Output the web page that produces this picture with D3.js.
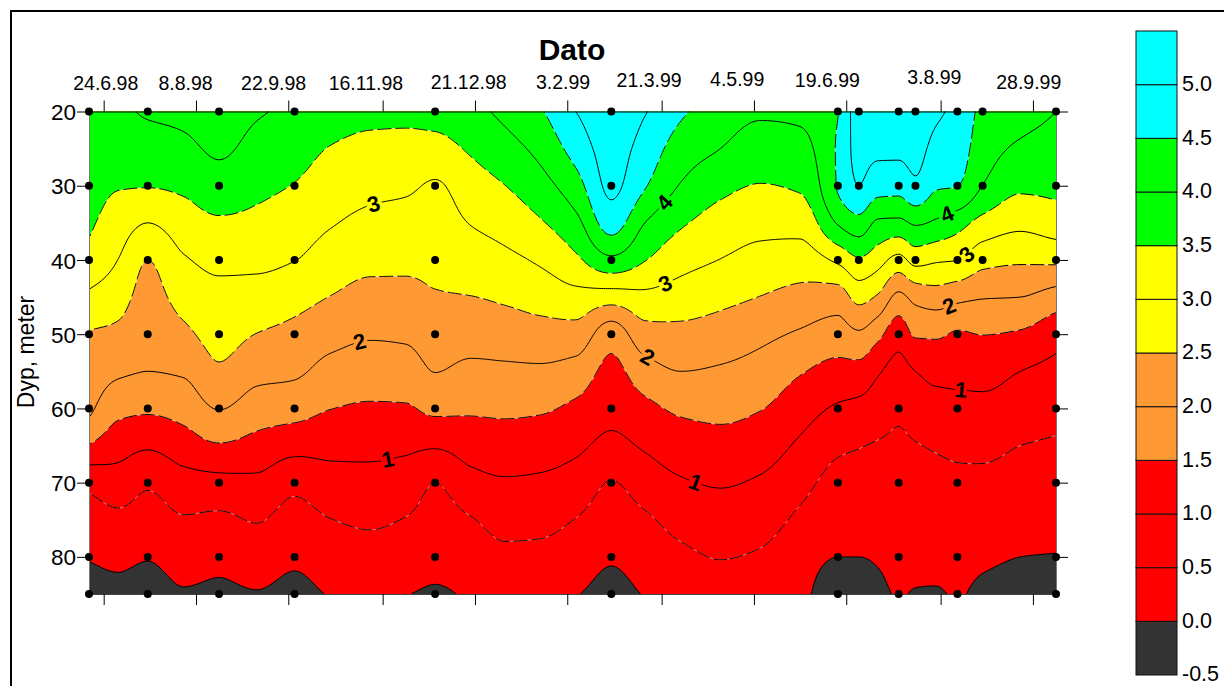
<!DOCTYPE html>
<html><head><meta charset="utf-8">
<script src="https://cdn.jsdelivr.net/npm/d3@7"></script>
<style>
body{margin:0;background:#fff}
svg{display:block}
text{font-family:"Liberation Sans",Arial,Helvetica,sans-serif}
</style>
</head><body>
<svg id="chart" width="1224" height="686"></svg>
<script>
// ---------------- data ----------------
const depths = [20,25,30,35,40,45,50,55,60,65,70,75,80,85];
const columnDates = ["1998-06-24","1998-07-08","1998-07-22","1998-08-08","1998-08-25","1998-09-12","1998-09-30","1998-10-17","1998-11-05","1998-11-22","1998-12-06","1998-12-23","1999-01-08","1999-01-25","1999-02-11","1999-02-28","1999-03-16","1999-04-02","1999-04-21","1999-05-10","1999-05-29","1999-06-16","1999-06-26","1999-07-05","1999-07-15","1999-07-23","1999-08-02","1999-08-12","1999-08-24","1999-09-11","1999-09-28"];
// temperature profile for each column date, one value per depth
const profiles = [
[3.90,3.79,3.68,3.57,3.36,2.90,2.47,2.29,2.10,1.48,0.62,0.28,0.03,-0.20],
[3.92,3.73,3.53,3.27,2.99,2.69,2.39,2.08,1.64,1.20,0.77,0.39,0.11,-0.15],
[4.06,3.79,3.52,3.00,2.50,2.33,2.17,2.00,1.58,1.06,0.57,0.28,0.03,-0.25],
[4.12,3.89,3.59,3.27,2.95,2.68,2.39,2.06,1.69,1.26,0.81,0.46,0.21,-0.05],
[4.22,4.07,3.79,3.43,3.11,2.87,2.67,2.43,2.02,1.46,0.85,0.41,0.13,-0.10],
[4.05,3.85,3.62,3.38,3.11,2.81,2.49,2.15,1.76,1.33,0.89,0.53,0.24,-0.03],
[3.90,3.70,3.48,3.25,3.01,2.67,2.36,2.08,1.69,1.17,0.63,0.32,0.09,-0.15],
[3.72,3.48,3.26,3.04,2.77,2.49,2.17,1.84,1.51,1.14,0.81,0.49,0.25,0.02],
[3.62,3.38,3.13,2.88,2.62,2.35,2.05,1.75,1.44,1.13,0.84,0.57,0.32,0.07],
[3.60,3.37,3.08,2.83,2.61,2.35,2.08,1.77,1.45,1.09,0.77,0.48,0.24,0.01],
[3.65,3.36,2.95,2.79,2.63,2.46,2.23,2.01,1.61,1.05,0.50,0.32,0.14,-0.05],
[3.85,3.56,3.28,3.02,2.75,2.49,2.20,1.89,1.57,1.21,0.84,0.47,0.23,0.05],
[4.12,3.81,3.49,3.19,2.88,2.57,2.24,1.91,1.59,1.27,0.95,0.66,0.39,0.14],
[4.45,4.14,3.81,3.45,3.07,2.69,2.31,1.92,1.56,1.23,0.92,0.64,0.37,0.12],
[5.00,4.69,4.30,3.86,3.40,2.83,2.30,1.81,1.40,1.10,0.80,0.49,0.25,0.02],
[5.35,5.20,5.10,4.72,3.89,2.74,1.72,1.36,1.15,0.88,0.48,0.27,0.05,-0.15],
[5.03,4.80,4.54,4.00,3.52,2.87,2.30,1.80,1.37,1.06,0.73,0.43,0.22,0.02],
[4.58,4.28,3.97,3.57,3.18,2.77,2.36,2.00,1.58,1.26,0.95,0.66,0.39,0.14],
[4.25,4.00,3.63,3.30,2.99,2.63,2.28,1.94,1.63,1.33,1.04,0.78,0.52,0.27],
[4.07,3.78,3.48,3.16,2.83,2.49,2.12,1.81,1.52,1.23,0.94,0.69,0.44,0.17],
[4.10,3.85,3.57,3.18,2.76,2.34,1.94,1.54,1.22,0.92,0.65,0.41,0.20,0.10],
[4.48,4.56,4.54,4.04,3.10,2.25,1.78,1.34,0.94,0.58,0.36,0.18,0.00,-0.30],
[5.25,5.15,5.00,4.32,3.44,2.66,1.93,1.33,0.87,0.52,0.34,0.17,0.00,-0.30],
[5.30,5.10,4.71,3.92,3.21,2.44,1.64,1.06,0.74,0.47,0.33,0.19,0.04,-0.10],
[5.30,5.10,4.68,3.88,2.84,1.88,1.20,0.83,0.58,0.43,0.32,0.21,0.11,0.02],
[5.35,5.17,4.91,4.06,3.17,2.15,1.56,1.00,0.72,0.48,0.35,0.23,0.10,-0.02],
[5.10,4.83,4.55,3.92,3.06,2.26,1.57,1.14,0.82,0.54,0.38,0.25,0.11,-0.03],
[4.85,4.72,4.51,3.70,3.01,2.13,1.45,1.14,0.86,0.59,0.41,0.27,0.13,0.03],
[4.40,4.25,3.99,3.34,2.67,2.03,1.51,1.17,0.87,0.61,0.40,0.26,0.08,-0.10],
[4.20,3.92,3.59,3.12,2.57,2.00,1.44,1.00,0.75,0.50,0.33,0.17,0.00,-0.20],
[4.00,3.81,3.61,3.26,2.60,1.78,1.18,0.87,0.65,0.45,0.30,0.14,-0.02,-0.30]
];
const stationDates = ["1998-06-24","1998-07-22","1998-08-25","1998-09-30","1998-12-06","1999-02-28","1999-06-16","1999-06-26","1999-07-15","1999-07-23","1999-08-12","1999-08-24","1999-09-28"];
const stationFullProfile = [true,true,true,true,true,true,true,false,true,false,true,false,true];
const fullSampleDepths = [20,30,40,50,60,70,80,85];
const shallowSampleDepths = [20,30,40];
const tickDates = ["1998-07-01","1998-08-14","1998-09-27","1998-11-11","1998-12-25","1999-02-07","1999-03-24","1999-05-07","1999-06-20","1999-08-04","1999-09-17"];
const dateLabels = ["24.6.98","8.8.98","22.9.98","16.11.98","21.12.98","3.2.99","21.3.99","4.5.99","19.6.99","3.8.99","28.9.99"];
const dateLabelAnchors = ["1998-07-02","1998-08-09","1998-09-20","1998-11-03","1998-12-22","1999-02-05","1999-03-18","1999-04-29","1999-06-11","1999-08-01","1999-09-15"];
const depthTicks = [20,30,40,50,60,70,80];
const bandBreaks = [0,1.5,2.5,3.5,4.5];
const bandColors = ["#333333","#ff0000","#ff9933","#ffff00","#00ff00","#00ffff"];
const lineLevels = [0,0.5,1,1.5,2,2.5,3,3.5,4,4.5,5];
const legendSteps = [-0.5,0,0.5,1,1.5,2,2.5,3,3.5,4,4.5,5,5.5];
const contourLabels = [
  {level:3, date:"1998-11-07", depth:32.3},
  {level:2, date:"1998-10-31", depth:51.2},
  {level:1, date:"1998-11-13", depth:66.7},
  {level:4, date:"1999-03-25", depth:32.1},
  {level:3, date:"1999-03-26", depth:43.1},
  {level:2, date:"1999-03-17", depth:53.2},
  {level:1, date:"1999-04-08", depth:70.5},
  {level:4, date:"1999-08-08", depth:34.1},
  {level:3, date:"1999-08-15", depth:39.0},
  {level:2, date:"1999-08-08", depth:46.0},
  {level:1, date:"1999-08-14", depth:57.0}
];

// ---------------- layout ----------------
const parse = d3.utcParse("%Y-%m-%d");
const svg = d3.select("#chart");
const x = d3.scaleUtc().domain([parse(columnDates[0]), parse(columnDates[columnDates.length-1])]).range([89, 1056]);
const y = d3.scaleLinear().domain([20, 85]).range([111.5, 594]);
const color = d3.scaleThreshold().domain(bandBreaks).range(bandColors);
const labelBaseline = [90, 90, 90, 90, 88.7, 89.3, 86.7, 86, 86.7, 84, 89.3];

// frame
svg.append("rect").attr("x",11).attr("y",11).attr("width",1400).attr("height",900)
  .attr("fill","none").attr("stroke","#000").attr("stroke-width",2);

// ---------------- field ----------------
function pchip(xs, ys){
  const n = xs.length, h = [], d = [], m = new Array(n);
  for (let i=0;i<n-1;i++){ h[i]=xs[i+1]-xs[i]; d[i]=(ys[i+1]-ys[i])/h[i]; }
  m[0]=d[0]; m[n-1]=d[n-2];
  for (let i=1;i<n-1;i++){
    if (d[i-1]*d[i] <= 0) m[i]=0;
    else { const w1=2*h[i]+h[i-1], w2=h[i]+2*h[i-1]; m[i]=(w1+w2)/(w1/d[i-1]+w2/d[i]); }
  }
  return function(v){
    v = Math.max(xs[0], Math.min(xs[n-1], v));
    let i = d3.bisectRight(xs, v) - 1; i = Math.max(0, Math.min(n-2, i));
    const t=(v-xs[i])/h[i], t2=t*t, t3=t2*t;
    return (2*t3-3*t2+1)*ys[i] + (t3-2*t2+t)*h[i]*m[i] + (-2*t3+3*t2)*ys[i+1] + (t3-t2)*h[i]*m[i+1];
  };
}
const X0 = x.range()[0], X1 = x.range()[1], Y0 = y.range()[0], Y1 = y.range()[1];
const nxIn = Math.round((X1-X0)/2), nyIn = Math.round((Y1-Y0)/2);
const cw = (X1-X0)/nxIn, ch = (Y1-Y0)/nyIn, pad = 3;
const nx = nxIn + 2*pad, ny = nyIn + 2*pad;
const GX0 = X0 - pad*cw, GY0 = Y0 - pad*ch;
const colX = columnDates.map(d => x(parse(d)));
const rowInterp = depths.map((dep,k) => pchip(colX, profiles.map(p => p[k])));
const values = new Float64Array(nx*ny);
for (let i=0;i<nx;i++){
  const px = GX0 + (i+0.5)*cw;
  const fy = pchip(depths, rowInterp.map(f => f(px)));
  for (let j=0;j<ny;j++){
    values[j*nx+i] = fy(y.invert(GY0 + (j+0.5)*ch));
  }
}
const cg = d3.contours().size([nx, ny]).smooth(true);
const toPx = d3.geoTransform({point(gx, gy){ this.stream.point(GX0 + gx*cw, GY0 + gy*ch); }});
const path = d3.geoPath(toPx);

svg.append("defs").append("clipPath").attr("id","plotclip")
  .append("rect").attr("x",X0).attr("y",Y0).attr("width",X1-X0).attr("height",Y1-Y0);
const plot = svg.append("g").attr("clip-path","url(#plotclip)");

plot.append("rect").attr("x",X0).attr("y",Y0).attr("width",X1-X0).attr("height",Y1-Y0).attr("fill",bandColors[0]);
bandBreaks.forEach((t,k) => {
  plot.append("path").attr("d", path(cg.contour(values, t))).attr("fill", bandColors[k+1]);
});

const linesByLevel = {};
lineLevels.forEach(lv => {
  const geo = cg.contour(values, lv);
  const rings = [];
  geo.coordinates.forEach(poly => poly.forEach(r => rings.push(r.map(([gx,gy]) => [GX0+gx*cw, GY0+gy*ch]))));
  linesByLevel[lv] = rings;
  const dashed = lv % 1 !== 0;
  const d = path(geo);
  if (dashed) {
    plot.append("path").attr("d", d).attr("fill","none")
      .attr("stroke","rgba(255,255,255,0.55)").attr("stroke-width",0.8);
  }
  plot.append("path").attr("d", d).attr("fill","none")
    .attr("stroke","#000").attr("stroke-width",1)
    .attr("stroke-dasharray", dashed ? "14,4" : null);
});

// contour labels snapped to the computed lines
contourLabels.forEach(lb => {
  const tx = x(parse(lb.date)), ty = y(lb.depth);
  let best = null, bd = 1e9;
  (linesByLevel[lb.level]||[]).forEach(r => {
    for (let i=0;i<r.length;i++){
      const p = r[i];
      if (p[0]<X0+5||p[0]>X1-5||p[1]<Y0+5||p[1]>Y1-5) continue;
      const dd = (p[0]-tx)**2 + (p[1]-ty)**2;
      if (dd < bd){ bd = dd; best = {r, i}; }
    }
  });
  let px = tx, py = ty, ang = 0;
  if (best && bd < 30*30){
    const r = best.r, n = r.length;
    const a = r[(best.i-4+n)%n], b = r[(best.i+4)%n];
    px = r[best.i][0]; py = r[best.i][1];
    ang = Math.atan2(b[1]-a[1], b[0]-a[0])*180/Math.PI;
    if (ang > 90) ang -= 180; if (ang < -90) ang += 180;
  }
  svg.append("text").attr("transform",`translate(${px},${py}) rotate(${ang})`)
    .attr("text-anchor","middle").attr("dominant-baseline","central")
    .attr("font-size",22).attr("font-weight","bold")
    .attr("fill","#000").attr("stroke", color(lb.level)).attr("stroke-width",7)
    .attr("stroke-linejoin","round").attr("paint-order","stroke")
    .text(d3.format("d")(lb.level));
});

// ---------------- axes ----------------
const tickD = tickDates.map(parse);
function styleAxis(g, col){ g.select(".domain").attr("stroke",col); g.selectAll(".tick line").attr("stroke","#000"); }
svg.append("g").attr("transform",`translate(0,${Y1})`)
  .call(d3.axisBottom(x).tickValues(tickD).tickSize(11).tickSizeOuter(0).tickFormat(""))
  .call(g => styleAxis(g, "#444"));
svg.append("g").attr("transform",`translate(${X1},0)`)
  .call(d3.axisRight(y).tickValues(depthTicks).tickSize(12).tickSizeOuter(0).tickFormat(""))
  .call(g => styleAxis(g, "#777"));
svg.append("g").attr("transform",`translate(${X0},0)`)
  .call(d3.axisLeft(y).tickValues(depthTicks).tickSize(12).tickSizeOuter(0).tickPadding(1))
  .call(g => styleAxis(g, "#777"))
  .call(g => g.selectAll("text").attr("font-size",22.5).attr("font-family","Liberation Sans, Arial, sans-serif").attr("fill","#000").attr("dy","0.36em"));
svg.append("g").attr("transform",`translate(0,${Y0})`)
  .call(d3.axisTop(x).tickValues(tickD).tickSize(11).tickSizeOuter(0).tickFormat(""))
  .call(g => styleAxis(g, "#000"));

svg.selectAll("text.datelab").data(dateLabels).enter().append("text").attr("class","datelab")
  .attr("x",(d,i) => x(parse(dateLabelAnchors[i]))).attr("y",(d,i) => labelBaseline[i])
  .attr("text-anchor","middle").attr("font-size",19.5).attr("fill","#000").text(d => d);

svg.append("text").attr("x",572).attr("y",60).attr("text-anchor","middle")
  .attr("font-size",30).attr("font-weight","bold").text("Dato");
svg.append("text").attr("transform","translate(34,352) rotate(-90)").attr("text-anchor","middle")
  .attr("font-size",23).text("Dyp, meter");

// station dots
const pts = [];
stationDates.forEach((d,i) => (stationFullProfile[i] ? fullSampleDepths : shallowSampleDepths).forEach(dep => pts.push([parse(d), dep])));
svg.selectAll("circle.stn").data(pts).enter().append("circle").attr("class","stn")
  .attr("cx", d => x(d[0])).attr("cy", d => y(d[1])).attr("r",4).attr("fill","#000");

// ---------------- legend ----------------
const ly = d3.scaleLinear().domain([-0.5, 5.5]).range([675, 31]);
const cells = d3.pairs(legendSteps);
svg.selectAll("rect.leg").data(cells).enter().append("rect").attr("class","leg")
  .attr("x",1136).attr("width",41)
  .attr("y", d => ly(d[1])).attr("height", d => ly(d[0]) - ly(d[1]))
  .attr("fill", d => color((d[0]+d[1])/2)).attr("stroke","#111").attr("stroke-width",1);
const legFmt = d3.formatLocale({decimal:".", thousands:",", grouping:[3], currency:["",""], minus:"-"}).format(".1f");
svg.selectAll("text.legl").data(legendSteps.slice(0,-1)).enter().append("text").attr("class","legl")
  .attr("x",1182).attr("y", d => ly(d)).attr("dy","0.3em")
  .attr("font-size",21.5).attr("fill","#000").text(d => legFmt(d));
</script>
</body></html>
